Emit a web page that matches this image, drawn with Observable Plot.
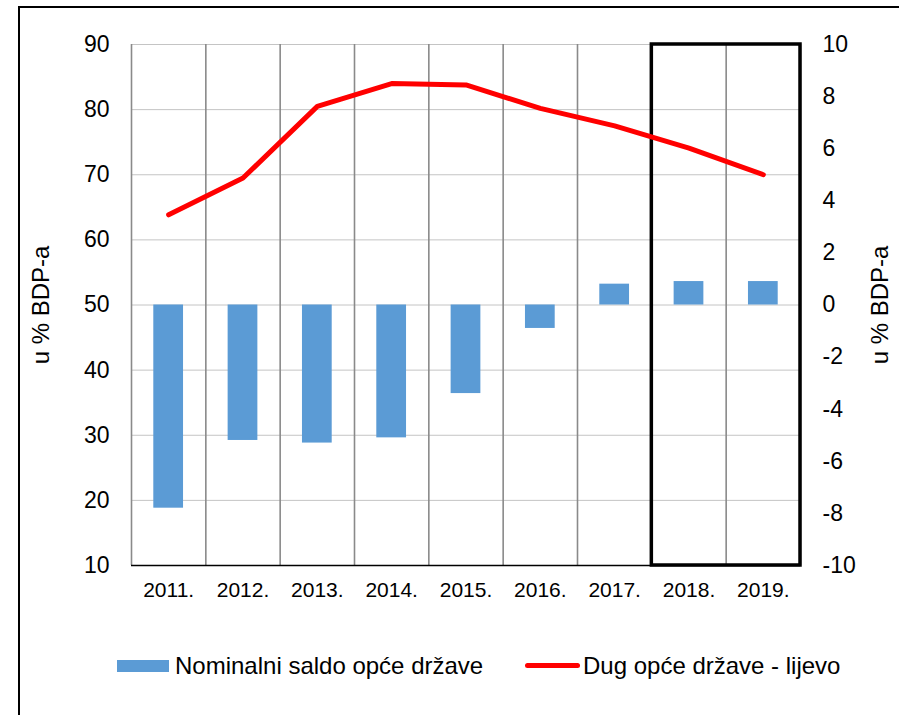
<!DOCTYPE html>
<html>
<head>
<meta charset="utf-8">
<script src="https://cdn.jsdelivr.net/npm/d3@7"></script>
<script src="https://cdn.jsdelivr.net/npm/@observablehq/plot@0.6"></script>
<style>
  html, body { margin: 0; padding: 0; background: #fff; overflow: hidden; }
  #wrap { position: relative; width: 899px; height: 715px; font-family: "Liberation Sans", Arial, sans-serif; }
  #frame { position: absolute; left: 18px; top: 6px; width: 1000px; height: 1000px; border-left: 2px solid #000; border-top: 2px solid #000; pointer-events: none; }
  .lg { position: absolute; font-size: 24px; line-height: 24px; color: #000; white-space: nowrap; }
</style>
</head>
<body>
<div id="wrap">
  <div id="chart"></div>
  <div id="frame"></div>
  <div id="legend"></div>
</div>
<script>
// ---- data ----
const years = ["2011.", "2012.", "2013.", "2014.", "2015.", "2016.", "2017.", "2018.", "2019."];
const debt = [63.85, 69.5, 80.5, 84.0, 83.8, 80.2, 77.5, 74.1, 70.0];      // Dug opće države - lijevo (left axis)
const saldo = [-7.8, -5.2, -5.3, -5.1, -3.4, -0.9, 0.8, 0.9, 0.9];          // Nominalni saldo opće države (right axis)
const leftTicks = [10, 20, 30, 40, 50, 60, 70, 80, 90];
const rightTicks = [-10, -8, -6, -4, -2, 0, 2, 4, 6, 8, 10];
const highlight = ["2018.", "2019."];
const seriesNames = ["Nominalni saldo opće države", "Dug opće države - lijevo"];
const axisTitle = "u % BDP-a";

// ---- mapping right axis onto left scale ----
const leftDomain = [10, 90];
const rightDomain = [-10, 10];
const k = (leftDomain[1] - leftDomain[0]) / (rightDomain[1] - rightDomain[0]);
const toLeft = v => leftDomain[0] + (v - rightDomain[0]) * k;
const fromLeft = y => (y - leftDomain[0]) / k + rightDomain[0];

const idx = years.map((_, i) => i);
const lineData = years.map((y, i) => ({i, v: debt[i]}));
const barData = years.map((y, i) => ({i, v: saldo[i]}));
const boundaries = d3.range(-0.5, years.length, 1);
const hl = {x1: years.indexOf(highlight[0]) - 0.5, x2: years.indexOf(highlight[highlight.length - 1]) + 0.5};
const half = 0.2;

const chart = Plot.plot({
  width: 899,
  height: 620,
  marginLeft: 131,
  marginRight: 99,
  marginTop: 44,
  marginBottom: 55,
  style: {fontFamily: "'Liberation Sans', Arial, sans-serif", fontSize: "23px", color: "#000", background: "transparent"},
  x: {type: "linear", domain: [-0.5, years.length - 0.5]},
  y: {domain: leftDomain},
  marks: [
    Plot.ruleY(leftTicks, {y: d => d, stroke: "#c4c4c4", strokeWidth: 1}),
    Plot.ruleX(boundaries, {x: d => d, y1: () => leftDomain[0], y2: () => leftDomain[1], stroke: "#8a8a8a", strokeWidth: 1.6}),
    Plot.rect(barData, {
      x1: d => d.i - half, x2: d => d.i + half,
      y1: () => toLeft(0), y2: d => toLeft(d.v),
      fill: "#5B9BD5"
    }),
    Plot.ruleY([leftDomain[0]], {y: d => d, stroke: "#000", strokeWidth: 1.5}),
    Plot.rect([hl], {x1: "x1", x2: "x2", y1: () => leftDomain[0], y2: () => leftDomain[1], fill: "none", stroke: "#000", strokeWidth: 3.5}),
    Plot.line(lineData, {x: "i", y: "v", stroke: "#FF0000", strokeWidth: 5, strokeLinecap: "round", strokeLinejoin: "round"}),
    Plot.axisY(leftTicks, {anchor: "left", tickSize: 0, tickPadding: 22, label: null, fontSize: 23}),
    Plot.axisY(rightTicks.map(toLeft), {anchor: "right", tickSize: 0, tickPadding: 22, label: null, fontSize: 23,
      tickFormat: d => String(Math.round(fromLeft(d)))}),
    Plot.axisX(idx, {anchor: "bottom", tickSize: 0, tickPadding: 17, label: null, fontSize: 21, tickFormat: i => years[i]}),
    Plot.text([axisTitle], {text: d => d, frameAnchor: "left", dx: -90, rotate: -90, textAnchor: "middle", fontSize: 24}),
    Plot.text([axisTitle], {text: d => d, frameAnchor: "right", dx: 80, rotate: -90, textAnchor: "middle", fontSize: 24})
  ]
});
document.getElementById("chart").appendChild(chart);

// ---- legend ----
const legend = document.getElementById("legend");
legend.innerHTML = `
  <div style="position:absolute;left:117px;top:660px;width:52px;height:12px;background:#5B9BD5"></div>
  <div class="lg" style="left:175px;top:654px">${seriesNames[0]}</div>
  <div style="position:absolute;left:525px;top:663px;width:55px;height:5px;border-radius:3px;background:#FF0000"></div>
  <div class="lg" style="left:583px;top:654px">${seriesNames[1]}</div>
`;
</script>
</body>
</html>
